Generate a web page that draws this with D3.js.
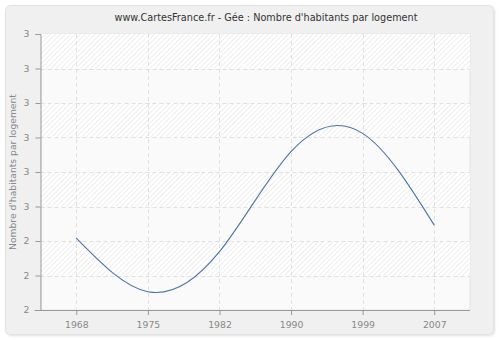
<!DOCTYPE html>
<html>
<head>
<meta charset="utf-8">
<script src="https://cdn.jsdelivr.net/npm/d3@7.9.0/dist/d3.min.js"></script>
<style>
  body { margin: 0; background: #fff; }
  svg { display: block; font-family: "DejaVu Sans", Verdana, sans-serif; }
</style>
</head>
<body>
<div id="chart"></div>
<script>
/* ---------- data --------- */
const years  = ['1968', '1975', '1982', '1990', '1999', '2007'];
const values = [2.408, 2.253, 2.369, 2.659, 2.712, 2.446];
const yTicks = [2.2, 2.3, 2.4, 2.5, 2.6, 2.7, 2.8, 2.9, 3.0];

const W = 500, H = 340;
const area = { l: 40.5, r: 470, t: 34, b: 310 };

const svg = d3.select('#chart').append('svg')
  .attr('width', W).attr('height', H);

/* ---------- background --------- */
const defs = svg.append('defs');
const shadow = defs.append('filter').attr('id', 'sh')
  .attr('x', '-5%').attr('y', '-5%').attr('width', '110%').attr('height', '110%');
shadow.append('feDropShadow').attr('dx', 1).attr('dy', 1)
  .attr('stdDeviation', 1.2).attr('flood-color', '#000').attr('flood-opacity', 0.12);

const hatch = defs.append('pattern').attr('id', 'hatch')
  .attr('patternUnits', 'userSpaceOnUse').attr('width', 3.5).attr('height', 3.5)
  .attr('patternTransform', 'rotate(45)');
hatch.append('rect').attr('width', 3.5).attr('height', 3.5).attr('fill', '#fff');
hatch.append('line').attr('x1', 0).attr('y1', 0).attr('x2', 0).attr('y2', 3.5)
  .attr('stroke', '#e4e4e4').attr('stroke-width', 1.2);

svg.append('rect')
  .attr('x', 5.5).attr('y', 5.5).attr('width', 488).attr('height', 329)
  .attr('rx', 5).attr('fill', '#f0f0f0').attr('stroke', '#e2e2e2')
  .attr('filter', 'url(#sh)');

/* ---------- scales --------- */
const x = d3.scalePoint().domain(years).range([area.l, area.r]).padding(0.5);
const y = d3.scaleLinear().domain([2.2, 3.0]).range([area.b, area.t]);

/* ---------- plot bands --------- */
svg.append('rect')
  .attr('x', area.l).attr('y', area.t)
  .attr('width', area.r - area.l).attr('height', area.b - area.t)
  .attr('fill', '#fafafa').attr('stroke', '#e6e6e6');

const bands = d3.range(yTicks.length - 1).filter(i => i % 2 === 1);
svg.append('g').selectAll('rect').data(bands).join('rect')
  .attr('x', area.l)
  .attr('y', i => y(yTicks[i + 1]))
  .attr('width', area.r - area.l)
  .attr('height', i => y(yTicks[i]) - y(yTicks[i + 1]))
  .attr('fill', 'url(#hatch)');

/* ---------- gridlines --------- */
const grid = svg.append('g')
  .attr('stroke', '#e0e0e0').attr('stroke-dasharray', '4,3').attr('stroke-width', 1);
grid.selectAll('.hy').data(yTicks.slice(1, -1)).join('line')
  .attr('x1', area.l).attr('x2', area.r)
  .attr('y1', d => Math.round(y(d)) + 0.5).attr('y2', d => Math.round(y(d)) + 0.5);
grid.selectAll('.vx').data(years).join('line')
  .attr('y1', area.t).attr('y2', area.b)
  .attr('x1', d => Math.round(x(d)) + 0.5).attr('x2', d => Math.round(x(d)) + 0.5);

/* ---------- axes --------- */
const yAxis = svg.append('g')
  .attr('transform', `translate(${area.l},0)`)
  .call(d3.axisLeft(y).tickValues(yTicks).tickSize(5).tickPadding(6)
    .tickFormat(d => d3.format('.0f')(d + 1e-9)));
const xAxis = svg.append('g')
  .attr('transform', `translate(0,${area.b})`)
  .call(d3.axisBottom(x).tickSize(5).tickPadding(6));

[yAxis, xAxis].forEach(a => {
  a.select('.domain').attr('stroke', '#999');
  a.selectAll('.tick line').attr('stroke', '#999');
  a.selectAll('.tick text').attr('fill', '#888').style('font-size', '9.3px');
  a.attr('font-family', null);
});
xAxis.select('.domain').attr('d', `M${area.l - 6},0.5H${area.r}`);

/* ---------- line --------- */
const line = d3.line()
  .x((d, i) => x(years[i]))
  .y(d => y(d))
  .curve(d3.curveNatural);

svg.append('path')
  .datum(values)
  .attr('d', line)
  .attr('fill', 'none')
  .attr('stroke', '#4a76a8')
  .attr('stroke-width', 1.1);

/* ---------- texts --------- */
svg.append('text')
  .attr('x', 266).attr('y', 21)
  .attr('text-anchor', 'middle')
  .attr('fill', '#333').style('font-size', '9.7px')
  .text("www.CartesFrance.fr - Gée : Nombre d'habitants par logement");

svg.append('text')
  .attr('transform', `translate(16,${(area.t + area.b) / 2}) rotate(-90)`)
  .attr('text-anchor', 'middle')
  .attr('fill', '#888').style('font-size', '9.2px')
  .text("Nombre d'habitants par logement");
</script>
</body>
</html>
